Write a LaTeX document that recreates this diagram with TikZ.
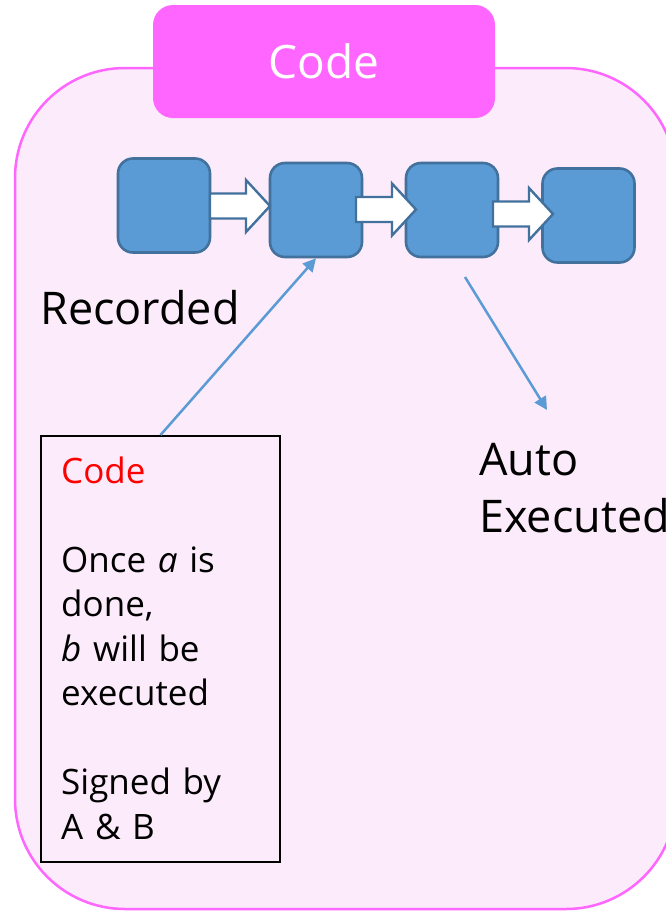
\documentclass[tikz,border=0pt]{standalone}
\usepackage{fontspec}
\setmainfont{Open Sans}
\usetikzlibrary{arrows.meta}
\definecolor{outerfill}{HTML}{FCEBFB}
\definecolor{outerline}{HTML}{FF66FF}
\definecolor{titlefill}{HTML}{FF66FF}
\definecolor{boxfill}{HTML}{5B9BD5}
\definecolor{boxline}{HTML}{41719C}
\definecolor{connline}{HTML}{5B9BD5}
\tikzset{
  bluebox/.style={draw=boxline, fill=boxfill, line width=2.6pt, rounded corners=15pt,
    minimum width=92pt, minimum height=94pt, inner sep=0pt},
  blkstyle/.style={draw=boxline, fill=white, line width=2.4pt, line join=miter},
  blkarrow/.pic={\path[blkstyle] (0,-12.5) -- (36,-12.5) -- (36,-26) -- (60,0) -- (36,26) -- (36,12.5) -- (0,12.5) -- cycle;},
  conn/.style={draw=connline, line width=2.5pt, -{Triangle[length=13pt,width=13pt]}},
  bigtext/.style={font=\fontsize{45}{57}\selectfont, inner sep=0pt, align=left},
}
\begin{document}
\begin{tikzpicture}[x=1pt, y=-1pt]
\useasboundingbox (0,0) rectangle (666,911);
% outer container
\path[draw=outerline, fill=outerfill, line width=2.5pt, rounded corners=110pt] (15,68) rectangle (676,909);
% title
\node[fill=titlefill, rounded corners=20pt, minimum width=342pt, minimum height=113pt, inner sep=0pt,
  text=white, font=\fontsize{46}{50}\selectfont] (title) at (324,61.5) {Code};
% blue boxes
\node[bluebox] (b1) at (164,205.5) {};
\node[bluebox] (b2) at (316,210) {};
\node[bluebox] (b3) at (452,210) {};
\node[bluebox] (b4) at (588.5,215.5) {};
% block arrows
\pic at (210,206) {blkarrow};
\pic at (356,209.5) {blkarrow};
\pic at (493,214) {blkarrow};
% labels
\node[bigtext, anchor=base west] (rec) at (40,324) {Recorded};
\node[bigtext, anchor=base west, text width=250pt] (auto) at (479,475) {Auto\\Executed};
% code box
\node[draw=black, line width=2pt, minimum width=239pt, minimum height=426pt, inner sep=0pt] (cb) at (160.5,649) {};
\node[anchor=base west, text width=215pt, align=left, inner sep=0pt,
  font=\fontsize{35}{44.5}\selectfont] (cbtext) at (61,483)
  {\textcolor{red}{Code}\\[44.5pt]
   Once \textit{a} is\\
   done,\\
   \textit{b} will be\\
   executed\\[44.5pt]
   Signed by\\
   A \& B};
% connectors
\coordinate (as) at (465,277);
\coordinate (ae) at (547,410);
\draw[conn] (cb.north) -- (b2.south);
\draw[conn] (as) -- (ae);
\end{tikzpicture}
\end{document}
